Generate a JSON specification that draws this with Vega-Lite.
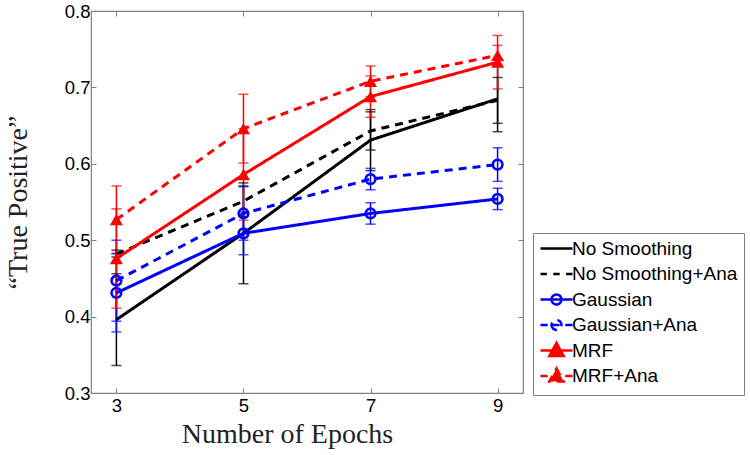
{
  "$schema": "https://vega.github.io/schema/vega-lite/v6.json",
  "width": 432,
  "height": 382,
  "autosize": "none",
  "padding": {"left": 91, "top": 11, "right": 227, "bottom": 62},
  "background": "white",
  "config": {
    "view": {"stroke": "#808080", "strokeWidth": 1.2},
    "axis": {"grid": false, "domain": false, "tickColor": "#808080", "tickSize": -5, "tickWidth": 1,
             "labelFont": "Liberation Sans", "labelFontSize": 18.5, "labelColor": "black",
             "titleFont": "Liberation Serif", "titleFontSize": 28, "titleFontWeight": "normal", "titleColor": "#222"}
  },
  "data": {"values": [
    {"series": "No Smoothing", "epoch": 3, "value": 0.396, "lo": 0.336, "hi": 0.456},
    {"series": "No Smoothing", "epoch": 5, "value": 0.509, "lo": 0.443, "hi": 0.575},
    {"series": "No Smoothing", "epoch": 7, "value": 0.631, "lo": 0.591, "hi": 0.671},
    {"series": "No Smoothing", "epoch": 9, "value": 0.685, "lo": 0.642, "hi": 0.728},
    {"series": "No Smoothing+Ana", "epoch": 3, "value": 0.482, "lo": 0.478, "hi": 0.487},
    {"series": "No Smoothing+Ana", "epoch": 5, "value": 0.551, "lo": 0.531, "hi": 0.571},
    {"series": "No Smoothing+Ana", "epoch": 7, "value": 0.643, "lo": 0.618, "hi": 0.668},
    {"series": "No Smoothing+Ana", "epoch": 9, "value": 0.683, "lo": 0.653, "hi": 0.713},
    {"series": "Gaussian", "epoch": 3, "value": 0.431, "lo": 0.380, "hi": 0.482},
    {"series": "Gaussian", "epoch": 5, "value": 0.509, "lo": 0.481, "hi": 0.537},
    {"series": "Gaussian", "epoch": 7, "value": 0.535, "lo": 0.521, "hi": 0.549},
    {"series": "Gaussian", "epoch": 9, "value": 0.554, "lo": 0.540, "hi": 0.568},
    {"series": "Gaussian+Ana", "epoch": 3, "value": 0.447, "lo": 0.394, "hi": 0.500},
    {"series": "Gaussian+Ana", "epoch": 5, "value": 0.535, "lo": 0.500, "hi": 0.570},
    {"series": "Gaussian+Ana", "epoch": 7, "value": 0.580, "lo": 0.566, "hi": 0.594},
    {"series": "Gaussian+Ana", "epoch": 9, "value": 0.599, "lo": 0.577, "hi": 0.621},
    {"series": "MRF", "epoch": 3, "value": 0.476, "lo": 0.411, "hi": 0.541},
    {"series": "MRF", "epoch": 5, "value": 0.586, "lo": 0.526, "hi": 0.646},
    {"series": "MRF", "epoch": 7, "value": 0.688, "lo": 0.661, "hi": 0.715},
    {"series": "MRF", "epoch": 9, "value": 0.733, "lo": 0.698, "hi": 0.768},
    {"series": "MRF+Ana", "epoch": 3, "value": 0.527, "lo": 0.483, "hi": 0.571},
    {"series": "MRF+Ana", "epoch": 5, "value": 0.646, "lo": 0.601, "hi": 0.691},
    {"series": "MRF+Ana", "epoch": 7, "value": 0.708, "lo": 0.688, "hi": 0.728},
    {"series": "MRF+Ana", "epoch": 9, "value": 0.742, "lo": 0.729, "hi": 0.755}
  ]},
  "resolve": {"axis": {"x": "independent", "y": "independent"}},
  "layer": [
    {
      "mark": {"type": "rule", "strokeWidth": 1.5},
      "encoding": {
        "x": {"field": "epoch", "type": "quantitative", "scale": {"domain": [2.6, 9.4], "nice": false, "zero": false},
              "axis": {"orient": "bottom", "values": [3, 5, 7, 9], "title": "Number of Epochs", "labelPadding": 8, "titlePadding": 6, "titleX": 196, "titleAnchor": "start", "titleAlign": "center"}},
        "y": {"field": "lo", "type": "quantitative", "scale": {"domain": [0.3, 0.8], "nice": false, "zero": false},
              "axis": {"orient": "left", "values": [0.3, 0.4, 0.5, 0.6, 0.7, 0.8], "format": ".1f", "title": "“True Positive”", "labelPadding": 6, "titlePadding": 32}},
        "y2": {"field": "hi"},
        "color": {"field": "series", "type": "nominal",
                  "scale": {"domain": ["No Smoothing", "No Smoothing+Ana", "Gaussian", "Gaussian+Ana", "MRF", "MRF+Ana"],
                            "range": ["#000000", "#000000", "#0000ff", "#0000ff", "#ff0000", "#ff0000"]},
                  "legend": {"orient": "none", "legendX": 442, "legendY": 222, "title": null,
                             "symbolSize": 256, "symbolStrokeWidth": 2.5, "symbolType": "stroke",
                             "labelFont": "Liberation Sans", "labelFontSize": 19, "labelColor": "black", "labelLimit": 400,
                             "strokeColor": "#808080", "fillColor": "white", "padding": 6, "rowPadding": -1.5, "labelOffset": 14,
                             "encode": {"symbols": {"update": {
                               "shape": {"signal": "'M-1,-1M-1,1' + (datum.value === 'No Smoothing' ? 'M-1,0H3' : datum.value === 'No Smoothing+Ana' ? 'M-1,0H-0.2M0.6,0H1.4M2.2,0H3' : datum.value === 'Gaussian' ? 'M-1,0H3M0.38,0A0.62,0.62 0 1,0 1.62,0A0.62,0.62 0 1,0 0.38,0' : datum.value === 'Gaussian+Ana' ? 'M-1,0H-0.1M2.1,0H3M0.38,0H1.62M0.38,0A0.62,0.62 0 1,0 1.62,0A0.62,0.62 0 1,0 0.38,0' : datum.value === 'MRF' ? 'M-1,0H3M1,-0.95L1.9,0.7L0.1,0.7Z' : 'M-1,0H-0.1M2.1,0H3M1,-0.95L1.9,0.7L0.1,0.7Z')"},
                               "fill": {"signal": "indexof(datum.value, 'MRF') === 0 ? '#ff0000' : 'transparent'"},
                               "fillOpacity": {"signal": "indexof(datum.value, 'MRF') === 0 ? 1 : 0"},
                               "stroke": {"signal": "indexof(datum.value, 'MRF') === 0 ? '#ff0000' : indexof(datum.value, 'Gaussian') === 0 ? '#0000ff' : '#000000'"},
                               "strokeWidth": {"value": 2.5},
                               "strokeDash": {"value": []}
                             }}}}}
      }
    },
    {
      "mark": {"type": "tick", "orient": "horizontal", "size": 10, "thickness": 1.5},
      "encoding": {
        "x": {"field": "epoch", "type": "quantitative", "axis": {"orient": "top", "values": [3, 5, 7, 9], "labels": false, "title": null}},
        "y": {"field": "lo", "type": "quantitative", "axis": {"orient": "right", "values": [0.3, 0.4, 0.5, 0.6, 0.7, 0.8], "labels": false, "title": null}},
        "color": {"field": "series", "type": "nominal", "legend": null}
      }
    },
    {
      "mark": {"type": "tick", "orient": "horizontal", "size": 10, "thickness": 1.5},
      "encoding": {
        "x": {"field": "epoch", "type": "quantitative", "axis": null},
        "y": {"field": "hi", "type": "quantitative", "axis": null},
        "color": {"field": "series", "type": "nominal", "legend": null}
      }
    },
    {
      "mark": {"type": "line", "strokeWidth": 3},
      "encoding": {
        "x": {"field": "epoch", "type": "quantitative", "axis": null},
        "y": {"field": "value", "type": "quantitative", "axis": null},
        "color": {"field": "series", "type": "nominal", "legend": null},
        "detail": {"field": "series"},
        "strokeDash": {"field": "series", "type": "nominal", "legend": null,
                       "scale": {"domain": ["No Smoothing", "No Smoothing+Ana", "Gaussian", "Gaussian+Ana", "MRF", "MRF+Ana"],
                                 "range": [[1, 0], [8, 6], [1, 0], [8, 6], [1, 0], [8, 6]]}}
      }
    },
    {
      "transform": [{"filter": "indexof(datum.series, 'Gaussian') === 0"}],
      "mark": {"type": "point", "shape": "circle", "filled": false, "size": 95, "strokeWidth": 2.5, "opacity": 1},
      "encoding": {
        "x": {"field": "epoch", "type": "quantitative", "axis": null},
        "y": {"field": "value", "type": "quantitative", "axis": null},
        "color": {"field": "series", "type": "nominal", "legend": null}
      }
    },
    {
      "transform": [{"filter": "indexof(datum.series, 'MRF') === 0"}],
      "mark": {"type": "point", "shape": "triangle-up", "filled": true, "size": 170, "opacity": 1},
      "encoding": {
        "x": {"field": "epoch", "type": "quantitative", "axis": null},
        "y": {"field": "value", "type": "quantitative", "axis": null},
        "color": {"field": "series", "type": "nominal", "legend": null}
      }
    }
  ]
}
